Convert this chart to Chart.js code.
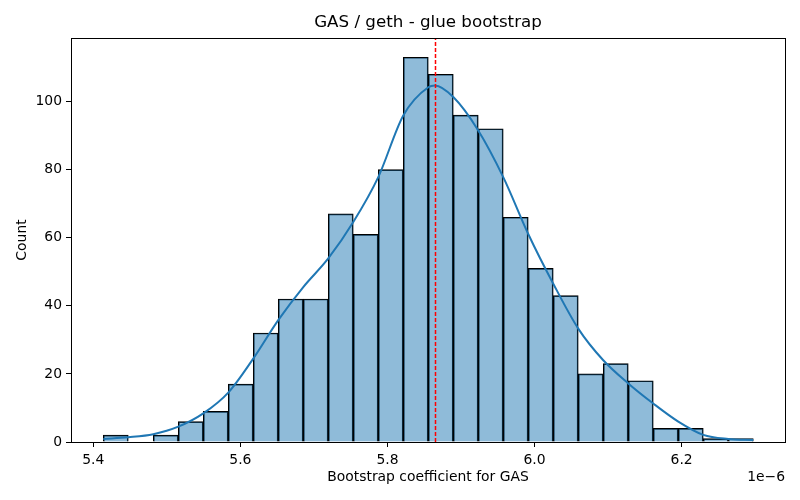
<!DOCTYPE html>
<html>
<head>
<meta charset="utf-8">
<script src="https://cdn.jsdelivr.net/npm/chart.js@4.4.0/dist/chart.umd.min.js"></script>
<style>
  html, body { margin: 0; padding: 0; background: #fff; }
  #wrap { width: 800px; height: 500px; }
</style>
</head>
<body>
<div id="wrap"><canvas id="histChart"></canvas></div>
<script>
// bootstrap coefficient values are in units of 1e-6
const binEdges = [5.4136, 5.4476, 5.4816, 5.5156, 5.5496, 5.5835, 5.6175, 5.6515, 5.6855,
    5.7195, 5.7535, 5.7875, 5.8215, 5.8555, 5.8895, 5.9234, 5.9574, 5.9914, 6.0254,
    6.0594, 6.0934, 6.1274, 6.1614, 6.1954, 6.2294, 6.2634, 6.2974];
const binCounts = [2, 0, 2, 6, 9, 17, 32, 42, 42, 67, 61, 80, 113, 108, 96, 92, 66, 51,
    43, 20, 23, 18, 4, 4, 1, 1];

const kdeX = [5.4136, 5.4476, 5.4816, 5.5156, 5.5496, 5.5835, 5.6175, 5.6515, 5.6855,
    5.7195, 5.7535, 5.7875, 5.8215, 5.8555, 5.8646, 5.8895, 5.9234, 5.9574, 5.9914,
    6.0254, 6.0594, 6.0934, 6.1274, 6.1614, 6.1954, 6.2294, 6.2634, 6.2974];
const kdeY = [0.9, 1.4, 2.3, 4.5, 8.4, 14.5, 24.5, 35.8, 45.5, 53.9, 64.6, 77.8, 95.9,
    104.2, 104.7, 101.3, 91.5, 77.8, 61.1, 46.5, 33.3, 24.0, 17.2, 11.3, 6.0, 2.1, 0.9, 0.6];

const meanValue = 5.8653;

const FONT = "'DejaVu Sans', sans-serif";

const barData = binCounts.map((c, i) => ({ x: (binEdges[i] + binEdges[i + 1]) / 2, y: c }));
const kdeData = kdeX.map((x, i) => ({ x: x, y: kdeY[i] }));

// frame, title and the 1e-6 offset text, placed like matplotlib does
const framePlugin = {
    id: 'frame',
    afterDraw(chart) {
        const { ctx, chartArea: a } = chart;
        ctx.save();
        ctx.strokeStyle = '#000';
        ctx.lineWidth = 1;
        ctx.strokeRect(Math.round(a.left) + 0.5, Math.round(a.top) + 0.5,
            Math.round(a.right - a.left), Math.round(a.bottom - a.top));
        ctx.fillStyle = '#000';
        ctx.textBaseline = 'middle';
        ctx.font = '16.7px ' + FONT;
        ctx.textAlign = 'center';
        ctx.fillText('GAS / geth - glue bootstrap', (a.left + a.right) / 2, 23);
        ctx.font = '13.9px ' + FONT;
        ctx.textAlign = 'right';
        ctx.fillText('1e\u22126', a.right, 477);
        ctx.restore();
    }
};

const histConfig = {
    data: {
        datasets: [
            {
                type: 'line',
                label: 'mean',
                data: [{ x: meanValue, y: 0 }, { x: meanValue, y: 118.65 }],
                borderColor: '#ff0000',
                borderWidth: 1.5,
                borderDash: [4, 2],
                pointRadius: 0,
                order: 0
            },
            {
                type: 'line',
                label: 'kde',
                data: kdeData,
                borderColor: '#1f77b4',
                borderWidth: 2,
                pointRadius: 0,
                cubicInterpolationMode: 'monotone',
                order: 1
            },
            {
                type: 'bar',
                label: 'Count',
                data: barData,
                backgroundColor: 'rgba(31, 119, 180, 0.5)',
                borderColor: '#000',
                borderWidth: 1,
                barPercentage: 1,
                categoryPercentage: 1,
                order: 2
            }
        ]
    },
    options: {
        responsive: true,
        maintainAspectRatio: false,
        animation: false,
        layout: { padding: { left: 0, right: 15, top: 38, bottom: 0 } },
        plugins: {
            legend: { display: false },
            tooltip: { enabled: false },
            title: { display: false }
        },
        scales: {
            x: {
                type: 'linear',
                min: 5.3697,
                max: 6.3405,
                offset: false,
                afterFit: (s) => { s.height = 58; },
                grid: { offset: false, drawOnChartArea: false, drawTicks: true, tickLength: 5, tickColor: '#000', color: '#000' },
                border: { display: false },
                ticks: {
                    stepSize: 0.2,
                    includeBounds: false,
                    autoSkip: false,
                    color: '#000',
                    padding: 5,
                    maxRotation: 0,
                    font: { family: FONT, size: 13.9 },
                    callback: (v) => v.toFixed(1)
                },
                title: {
                    display: true,
                    text: 'Bootstrap coefficient for GAS',
                    color: '#000',
                    font: { family: FONT, size: 13.9 },
                    padding: { top: 0, bottom: 14.6 }
                }
            },
            y: {
                min: 0,
                max: 118.65,
                afterFit: (s) => { s.width = 71; },
                grid: { offset: false, drawOnChartArea: false, drawTicks: true, tickLength: 5, tickColor: '#000', color: '#000' },
                border: { display: false },
                ticks: {
                    stepSize: 20,
                    includeBounds: false,
                    color: '#000',
                    padding: 4,
                    font: { family: FONT, size: 13.9 }
                },
                title: {
                    display: true,
                    text: 'Count',
                    color: '#000',
                    font: { family: FONT, size: 13.9 },
                    padding: { top: 13.6, bottom: 0 }
                }
            }
        }
    },
    plugins: [framePlugin]
};

const histChart = new Chart(document.getElementById('histChart'), histConfig);
</script>
</body>
</html>
